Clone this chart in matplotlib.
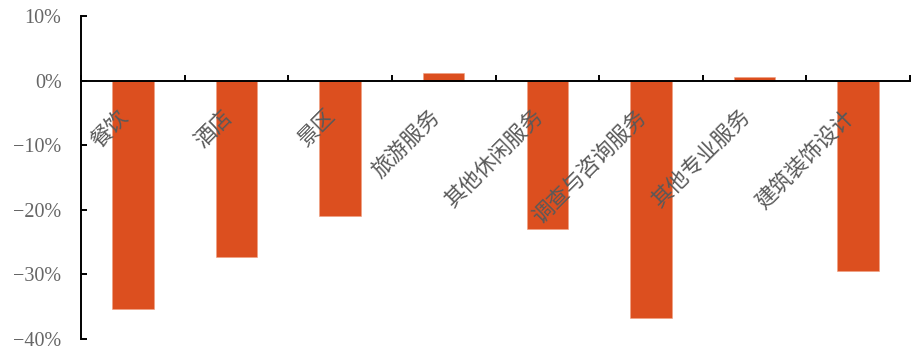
import matplotlib
matplotlib.use("Agg")
import matplotlib.pyplot as plt
import numpy as np

categories = ["餐饮", "酒店", "景区", "旅游服务", "其他休闲服务", "调查与咨询服务", "其他专业服务", "建筑装饰设计"]
values = [-35.3, -27.3, -20.9, 1.2, -22.9, -36.7, 0.6, -29.5]
yticks = [10, 0, -10, -20, -30, -40]

bar_color = "#DC4F1F"
text_color = "#595959"

fig = plt.figure(figsize=(9.15, 3.51), dpi=100)
ax = fig.add_axes([81/915, 1-339/351, (910-81)/915, (339-16)/351])

x = np.arange(len(categories))
ax.bar(x, values, width=0.4, color=bar_color, edgecolor="#F0A080", linewidth=0.4, zorder=1)

ax.set_xlim(-0.5, len(categories) - 0.5)
ax.set_ylim(-40, 10)
ax.set_axisbelow(False)
ax.xaxis.set_zorder(4)
ax.yaxis.set_zorder(4)

ax.spines["top"].set_visible(False)
ax.spines["right"].set_visible(False)
ax.spines["bottom"].set_position(("data", 0))
for s in ("left", "bottom"):
    ax.spines[s].set_linewidth(1.4)
    ax.spines[s].set_color("black")
    ax.spines[s].set_zorder(3)

ax.set_yticks(yticks)
ax.set_yticklabels([f"{v}%".replace("-", "\u2212") for v in yticks],
                   family=["Liberation Serif", "DejaVu Serif"], fontsize=14.5, color="#666666")
ax.tick_params(axis="y", direction="in", length=4.5, width=1.4, pad=14)

ax.set_xticks(np.arange(-0.5, len(categories), 1.0))
ax.set_xticklabels([])
ax.tick_params(axis="x", which="major", direction="in", length=4.5, width=1.4)
ax.set_xticks(x, categories, minor=True)
ax.tick_params(axis="x", which="minor", length=0, pad=18)
for lab in ax.get_xticklabels(minor=True):
    lab.set_rotation(45)
    lab.set_ha("right")
    lab.set_va("top")
    lab.set_family(["Noto Sans CJK SC", "DejaVu Sans"])
    lab.set_fontsize(15.5)
    lab.set_color(text_color)
    lab.set_fontweight("light")

fig.savefig("out.png", dpi=100)
